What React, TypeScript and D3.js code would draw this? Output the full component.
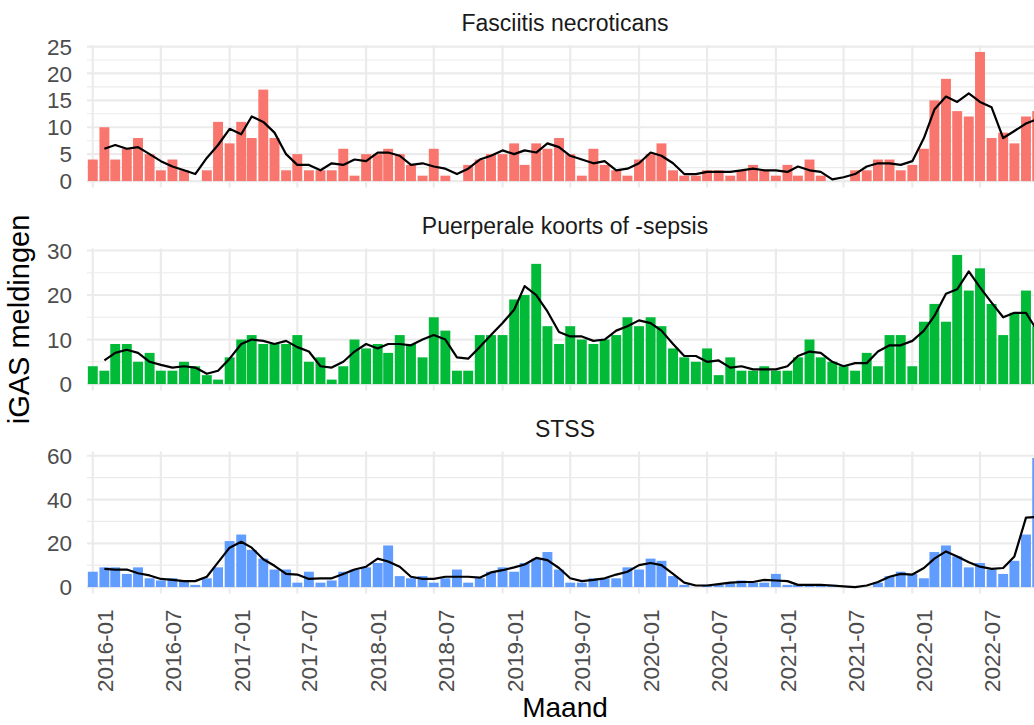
import React from "react";
import * as d3 from "d3";

// monthly iGAS reports, Jan 2016 .. Dec 2022
const months = d3.utcMonth.range(new Date(Date.UTC(2016, 0, 1)), new Date(Date.UTC(2023, 0, 1)));

const fasciitis = [
  4, 10, 4, 6, 8, 5, 2, 4, 2, 0, 2, 11,
  7, 11, 8, 17, 8, 2, 5, 2, 2, 2, 6, 1,
  5, 5, 6, 5, 3, 1, 6, 1, 0, 3, 4, 5,
  5, 7, 3, 7, 6, 8, 5, 1, 6, 3, 2, 1,
  4, 5, 7, 2, 1, 1, 2, 2, 1, 2, 3, 2,
  1, 3, 1, 4, 1, 0, 0, 2, 2, 4, 4, 2,
  3, 6, 15, 19, 13, 12, 24, 8, 9, 7, 12, 13,
];
const fasciitisTrend = [
  null, 6.0, 6.7, 6.0, 6.3, 5.0, 3.7, 2.7, 2.0, 1.3, 4.3, 6.7,
  9.7, 8.7, 12.0, 11.0, 9.0, 5.0, 3.0, 3.0, 2.0, 3.3, 3.0, 4.0,
  3.7, 5.3, 5.3, 4.7, 3.0, 3.3, 2.7, 2.3, 1.3, 2.3, 4.0, 4.7,
  5.7, 5.0, 5.7, 5.3, 7.0, 6.3, 4.7, 4.0, 3.3, 3.7, 2.0, 2.3,
  3.3, 5.3, 4.7, 3.3, 1.3, 1.3, 1.7, 1.7, 1.7, 2.0, 2.3, 2.0,
  2.0, 1.7, 2.7, 2.0, 1.7, 0.3, 0.7, 1.3, 2.7, 3.3, 3.3, 3.0,
  3.7, 8.0, 13.3, 15.7, 14.7, 16.3, 14.7, 13.7, 8.0, 9.3, 10.7, 11.5,
];

const puerperal = [
  4, 3, 9, 9, 5, 7, 3, 3, 5, 4, 2, 1,
  6, 10, 11, 9, 9, 9, 11, 5, 6, 1, 4, 10,
  8, 9, 7, 11, 9, 6, 15, 12, 3, 3, 11, 11,
  11, 19, 20, 27, 13, 9, 13, 10, 9, 10, 11, 15,
  13, 15, 13, 8, 6, 5, 8, 2, 6, 3, 3, 4,
  3, 3, 6, 10, 6, 5, 4, 3, 7, 4, 11, 11,
  4, 14, 18, 14, 29, 21, 26, 18, 11, 16, 21, 13,
];
const puerperalTrend = [
  null, 5.3, 7.0, 7.7, 7.0, 5.0, 4.3, 3.7, 4.0, 3.7, 2.3, 3.0,
  5.7, 9.0, 10.0, 9.7, 9.0, 9.7, 8.3, 7.3, 4.0, 3.7, 5.0, 7.3,
  9.0, 8.0, 9.0, 9.0, 8.7, 10.0, 11.0, 10.0, 6.0, 5.7, 8.3, 11.0,
  13.7, 16.7, 22.0, 20.0, 16.3, 11.7, 10.7, 10.7, 9.7, 10.0, 12.0, 13.0,
  14.3, 13.7, 12.0, 9.0, 6.3, 6.3, 5.0, 5.3, 3.7, 4.0, 3.3, 3.3,
  3.3, 4.0, 6.3, 7.3, 7.0, 5.0, 4.0, 4.7, 4.7, 7.3, 8.7, 8.7,
  9.7, 12.0, 15.3, 20.3, 21.3, 25.3, 21.7, 18.3, 15.0, 16.0, 16.0, 12.0,
];

const stss = [
  7, 9, 9, 6, 9, 4, 3, 4, 3, 1, 4, 9,
  21, 24, 17, 13, 8, 8, 2, 7, 2, 3, 7, 8,
  9, 11, 19, 5, 4, 5, 2, 4, 8, 2, 4, 7,
  9, 7, 11, 13, 16, 8, 2, 2, 4, 4, 4, 9,
  8, 13, 12, 5, 1, 0, 1, 1, 2, 3, 2, 2,
  6, 1, 1, 1, 1, 1, 0, 0, 0, 2, 5, 7,
  6, 4, 16, 19, 14, 9, 11, 8, 6, 12, 24, 59,
];
const stssTrend = [
  null, 8.3, 8.0, 8.0, 6.3, 5.3, 3.7, 3.3, 2.7, 2.7, 4.7, 11.3,
  18.0, 20.7, 18.0, 12.7, 9.7, 6.0, 5.7, 3.7, 4.0, 4.0, 6.0, 8.0,
  9.3, 13.0, 11.7, 9.3, 4.7, 3.7, 3.7, 4.7, 4.7, 4.7, 4.3, 6.7,
  7.7, 9.0, 10.3, 13.3, 12.3, 8.7, 4.0, 2.7, 3.3, 4.0, 5.7, 7.0,
  10.0, 11.0, 10.0, 6.0, 2.0, 0.7, 0.7, 1.3, 2.0, 2.3, 2.3, 3.3,
  3.0, 2.7, 1.0, 1.0, 1.0, 0.7, 0.3, 0.0, 0.7, 2.3, 4.7, 6.0,
  5.7, 8.7, 13.0, 16.3, 14.0, 11.3, 9.3, 8.3, 8.7, 14.0, 31.7, 32.0,
];

const panelTitles = ["Fasciitis necroticans", "Puerperale koorts of -sepsis", "STSS"];
const panelColors = ["#F8766D", "#00BA38", "#619CFF"];
const yMajor = [
  [0, 5, 10, 15, 20, 25],
  [0, 10, 20, 30],
  [0, 20, 40, 60],
];
const yMinor = [
  [2.5, 7.5, 12.5, 17.5, 22.5],
  [5, 15, 25],
  [10, 30, 50],
];
const xTickLabels = [
  "2016-01", "2016-07", "2017-01", "2017-07", "2018-01", "2018-07", "2019-01",
  "2019-07", "2020-01", "2020-07", "2021-01", "2021-07", "2022-01", "2022-07",
];

const W = 1034;
const H = 725;
const panelLeft = 87;
const panelRight = 1043;
const panelH = 142;
const panelTop0 = 45.5;
const panelStep = 203;
const font = "'Liberation Sans', Arial, sans-serif";

const parseMonth = d3.utcParse("%Y-%m");
const DAY = 86400000;

export default function App() {
  const panels = [
    { bars: fasciitis, trend: fasciitisTrend },
    { bars: puerperal, trend: puerperalTrend },
    { bars: stss, trend: stssTrend },
  ];

  const x = d3
    .scaleUtc()
    .domain([
      new Date(+months[0] - 15.5 * DAY),
      new Date(+months[months.length - 1] + 15.5 * DAY),
    ])
    .range([panelLeft, panelRight]);

  const barW = x(new Date(+months[0] + 13.25 * DAY)) - x(new Date(+months[0] - 13.25 * DAY));
  const xTicks = xTickLabels.map((s) => parseMonth(s));
  const lastPanelBottom = panelTop0 + 2 * panelStep + panelH;

  return (
    <svg
      width={W}
      height={H}
      style={{ position: "absolute", left: 0, top: 0, background: "#fff" }}
      fontFamily={font}
    >
      <rect width={W} height={H} fill="#fff" />
      {panels.map((p, k) => {
        const top = panelTop0 + k * panelStep;
        const max = d3.max(p.bars) as number;
        const y = d3
          .scaleLinear()
          .domain([-0.05 * max, 1.05 * max])
          .range([top + panelH, top]);
        const line = d3
          .line<number | null>()
          .defined((d) => d != null)
          .x((_, i) => x(months[i]))
          .y((d) => y(d as number));
        return (
          <g key={k}>
            <text
              x={(panelLeft + panelRight) / 2}
              y={top - 15}
              textAnchor="middle"
              fontSize={23}
              fill="#1A1A1A"
            >
              {panelTitles[k]}
            </text>
            {yMinor[k].map((t) => (
              <line key={"mn" + t} x1={panelLeft} x2={panelRight} y1={y(t)} y2={y(t)} stroke="#EBEBEB" strokeWidth={1.1} />
            ))}
            {yMajor[k].map((t) => (
              <line key={"mj" + t} x1={panelLeft} x2={panelRight} y1={y(t)} y2={y(t)} stroke="#EBEBEB" strokeWidth={2.2} />
            ))}
            {xTicks.map((d, i) => (
              <line key={"vx" + i} x1={x(d)} x2={x(d)} y1={top} y2={top + panelH} stroke="#EBEBEB" strokeWidth={2.2} />
            ))}
            {yMajor[k].map((t) => (
              <text
                key={"yl" + t}
                x={72}
                y={y(t)}
                dy="0.36em"
                textAnchor="end"
                fontSize={22.5}
                fill="#4D4D4D"
              >
                {t}
              </text>
            ))}
            {p.bars.map((v, i) => (
              <rect
                key={"b" + i}
                x={x(months[i]) - barW / 2}
                y={y(v)}
                width={barW}
                height={Math.max(0, y(0) - y(v))}
                fill={panelColors[k]}
              />
            ))}
            <path d={line(p.trend) || ""} fill="none" stroke="#000" strokeWidth={2.2} strokeLinejoin="round" />
          </g>
        );
      })}
      {xTicks.map((d, i) => (
        <text
          key={"xl" + i}
          transform={`translate(${x(d)},${lastPanelBottom + 16}) rotate(-90)`}
          dy={20}
          textAnchor="end"
          fontSize={22.5}
          fill="#4D4D4D"
        >
          {xTickLabels[i]}
        </text>
      ))}
      <text
        transform={`translate(29,${(panelTop0 + lastPanelBottom) / 2}) rotate(-90)`}
        textAnchor="middle"
        fontSize={29}
        fill="#000"
      >
        iGAS meldingen
      </text>
      <text x={(panelLeft + panelRight) / 2} y={717} textAnchor="middle" fontSize={28} fill="#000">
        Maand
      </text>
    </svg>
  );
}
